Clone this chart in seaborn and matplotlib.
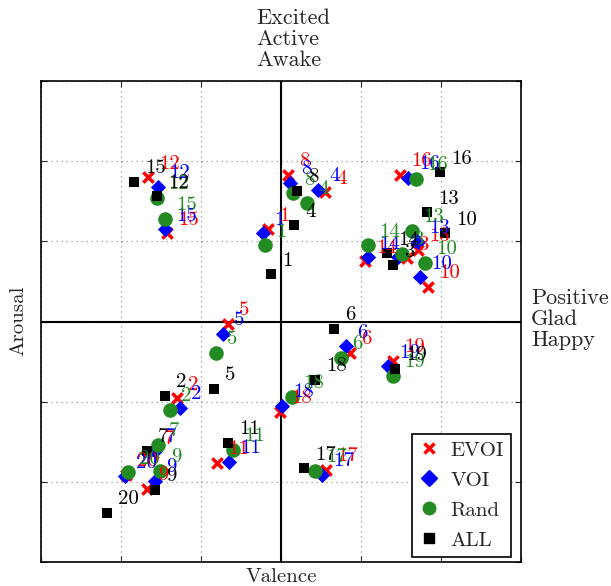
import matplotlib
matplotlib.use("Agg")
import matplotlib.pyplot as plt
import seaborn as sns
import pandas as pd
import numpy as np
from matplotlib.lines import Line2D

sns.set_style("white")
plt.rcParams["font.family"] = ["cmr10", "DejaVu Serif"]
plt.rcParams["axes.formatter.use_mathtext"] = True
plt.rcParams["mathtext.fontset"] = "cm"

ids = list(range(1, 21))
methods = ["EVOI", "VOI", "Rand", "ALL"]

evoi_x = [-0.16, -1.30, 1.58, 0.55, -0.66, 0.86, -1.60, 0.09, -1.68, 1.84, -0.80, -1.66, 1.71, 1.05, -1.43, 1.49, 0.56, -0.01, 1.40, -1.94]
evoi_y = [1.15, -0.96, 0.79, 1.61, -0.03, -0.39, -1.64, 1.83, -2.09, 0.43, -1.76, 1.80, 0.89, 0.75, 1.10, 1.83, -1.85, -1.13, -0.49, -1.91]

voi_x = [-0.23, -1.26, 1.46, 0.46, -0.73, 0.81, -1.58, 0.11, -1.58, 1.74, -0.65, -1.54, 1.71, 1.09, -1.45, 1.59, 0.51, 0.01, 1.34, -1.95]
voi_y = [1.10, -1.08, 0.81, 1.64, -0.15, -0.31, -1.61, 1.73, -1.99, 0.55, -1.75, 1.68, 0.99, 0.80, 1.15, 1.79, -1.91, -1.05, -0.56, -1.93]

rand_x = [-0.20, -1.39, 1.51, 0.33, -0.81, 0.75, -1.54, 0.15, -1.51, 1.80, -0.60, -1.55, 1.64, 1.09, -1.45, 1.69, 0.43, 0.14, 1.40, -1.91]
rand_y = [0.95, -1.10, 0.84, 1.48, -0.39, -0.45, -1.54, 1.60, -1.86, 0.73, -1.60, 1.54, 1.13, 0.95, 1.28, 1.78, -1.86, -0.94, -0.68, -1.88]

all_x = [-0.13, -1.45, 1.40, 0.16, -0.84, 0.66, -1.68, 0.20, -1.58, 2.05, -0.66, -1.55, 1.83, 1.33, -1.84, 1.99, 0.29, 0.43, 1.43, -2.18]
all_y = [0.59, -0.93, 0.70, 1.20, -0.84, -0.09, -1.61, 1.63, -2.10, 1.10, -1.51, 1.56, 1.36, 0.85, 1.74, 1.86, -1.83, -0.73, -0.59, -2.39]

frames = []
for m, xs, ys in zip(methods, [evoi_x, voi_x, rand_x, all_x], [evoi_y, voi_y, rand_y, all_y]):
    frames.append(pd.DataFrame({"method": m, "id": ids, "valence": xs, "arousal": ys}))
df = pd.concat(frames, ignore_index=True)

colors = {"EVOI": "#ff0000", "VOI": "#0000ff", "Rand": "#228b22", "ALL": "#000000"}
markers = {"EVOI": "x", "VOI": "D", "Rand": "o", "ALL": "s"}
sizes = {"EVOI": 55, "VOI": 60, "Rand": 110, "ALL": 60}
lws = {"EVOI": 2.5, "VOI": 0, "Rand": 0, "ALL": 0}

fig = plt.figure(figsize=(6.11, 5.86), dpi=100)
ax = fig.add_axes([41 / 611, 24 / 586, 480 / 611, 481 / 586])

for m in methods:
    sub = df[df.method == m]
    sns.scatterplot(data=sub, x="valence", y="arousal", marker=markers[m], color=colors[m],
                    s=sizes[m], linewidth=lws[m], edgecolor=colors[m] if m != "EVOI" else None,
                    ax=ax, legend=False, zorder=3)
    for _, r in sub.iterrows():
        ax.text(r.valence + 0.14, r.arousal + 0.17, str(r.id), color=colors[m], fontsize=15,
                ha="left", va="center", zorder=4)

ax.set_xlim(-3, 3)
ax.set_ylim(-3, 3)
ax.set_xticks(np.arange(-3, 4, 1))
ax.set_yticks(np.arange(-3, 4, 1))
ax.set_xticklabels([])
ax.set_yticklabels([])
ax.tick_params(direction="in", length=4, width=0.8, top=True, right=True, bottom=True, left=True)
ax.grid(True, linestyle=(0, (1, 3)), color="#999999", linewidth=0.9)
ax.axhline(0, color="black", linewidth=1.5, zorder=2)
ax.axvline(0, color="black", linewidth=1.5, zorder=2)
for sp in ax.spines.values():
    sp.set_linewidth(1.2)
    sp.set_color("black")
ax.set_xlabel("")
ax.set_ylabel("")

handles = [
    Line2D([], [], linestyle="none", marker="x", color=colors["EVOI"], markersize=7, markeredgewidth=2.5),
    Line2D([], [], linestyle="none", marker="D", color=colors["VOI"], markersize=8),
    Line2D([], [], linestyle="none", marker="o", color=colors["Rand"], markersize=9),
    Line2D([], [], linestyle="none", marker="s", color=colors["ALL"], markersize=7),
]
leg = ax.legend(handles, methods, loc="lower right", fontsize=15, frameon=True, fancybox=False,
                edgecolor="black", framealpha=1, borderpad=0.35, labelspacing=0.55,
                handlelength=1.0, handletextpad=0.5, borderaxespad=0,
                bbox_to_anchor=(0.979, 0.0104))
leg.get_frame().set_linewidth(1.2)

fig.text(281 / 611, 1 - 577 / 586, "Valence", ha="center", va="center", fontsize=15)
fig.text(18 / 611, 1 - 321 / 586, "Arousal", ha="center", va="center", rotation=90, fontsize=15)
fig.text(256 / 611, 1 - 8 / 586, "Excited\nActive\nAwake", ha="left", va="top", fontsize=16, linespacing=1.1)
fig.text(531 / 611, 1 - 288 / 586, "Positive\nGlad\nHappy", ha="left", va="top", fontsize=16, linespacing=1.1)

fig.savefig("out.png", dpi=100)
